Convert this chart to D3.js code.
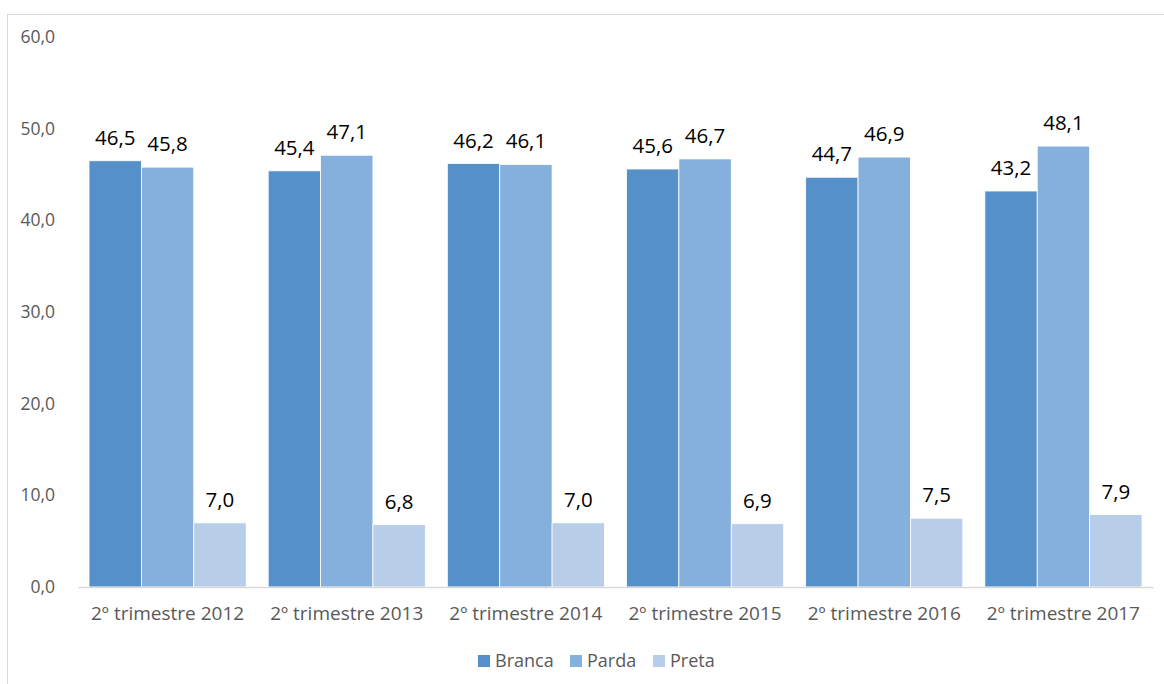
<!DOCTYPE html>
<html>
<head>
<meta charset="utf-8">
<script src="https://cdn.jsdelivr.net/npm/d3@7"></script>
<style>
  body { margin: 0; background: #fff; }
  text { font-family: "Open Sans", Lato, sans-serif; }
</style>
</head>
<body>
<div id="chart"></div>
<script>
const categories = ["2º trimestre 2012", "2º trimestre 2013", "2º trimestre 2014",
                    "2º trimestre 2015", "2º trimestre 2016", "2º trimestre 2017"];
const seriesNames = ["Branca", "Parda", "Preta"];
const branca = [46.5, 45.4, 46.2, 45.6, 44.7, 43.2];
const parda = [45.8, 47.1, 46.1, 46.7, 46.9, 48.1];
const preta = [7.0, 6.8, 7.0, 6.9, 7.5, 7.9];
const yTicks = [0, 10, 20, 30, 40, 50, 60];
const colors = ["#5591c8", "#85afdc", "#b8cde8"];

const width = 1164, height = 684;
const margin = {top: 37, right: 11, bottom: 97, left: 78};

const svg = d3.select("#chart").append("svg")
    .attr("width", width)
    .attr("height", height);

// chart frame
svg.append("rect")
    .attr("x", 7.5).attr("y", 14.5)
    .attr("width", width + 10).attr("height", height + 10)
    .attr("fill", "none")
    .attr("stroke", "#d9d9d9");

const x0 = d3.scaleBand()
    .domain(categories)
    .range([margin.left, width - margin.right])
    .paddingInner(0.123)
    .paddingOuter(0.0615);

const x1 = d3.scaleBand()
    .domain(seriesNames)
    .range([0, x0.bandwidth()]);

const y = d3.scaleLinear()
    .domain([0, 60])
    .range([height - margin.bottom, margin.top]);

const fmt = v => d3.format(".1f")(v).replace(".", ",");

// y axis labels
const yAxis = svg.append("g")
    .attr("transform", `translate(${margin.left - 20},0)`)
    .call(d3.axisLeft(y).tickValues(yTicks).tickFormat(fmt).tickSize(0));
yAxis.select(".domain").remove();
yAxis.selectAll("text")
    .attr("fill", "#595959")
    .attr("font-size", 17.5);

const data = seriesNames.map((s, i) => ({
    name: s,
    values: [branca, parda, preta][i]
}));

const groups = svg.append("g").selectAll("g")
    .data(data)
    .join("g")
    .attr("fill", (d, i) => colors[i]);

groups.selectAll("rect")
    .data(d => d.values.map((v, j) => ({name: d.name, cat: categories[j], v})))
    .join("rect")
    .attr("x", d => x0(d.cat) + x1(d.name))
    .attr("y", d => y(d.v))
    .attr("width", x1.bandwidth())
    .attr("height", d => y(0) - y(d.v))
    .attr("stroke", "#fff")
    .attr("stroke-width", 0.8);

// value labels
groups.selectAll("text")
    .data(d => d.values.map((v, j) => ({name: d.name, cat: categories[j], v})))
    .join("text")
    .attr("x", d => x0(d.cat) + x1(d.name) + x1.bandwidth() / 2)
    .attr("y", d => y(d.v) - 16)
    .attr("text-anchor", "middle")
    .attr("fill", "#000")
    .attr("font-size", 20.5)
    .text(d => fmt(d.v));

// x axis
const xAxis = svg.append("g")
    .attr("transform", `translate(0,${y(0)})`)
    .call(d3.axisBottom(x0).tickSize(0).tickPadding(20));
xAxis.select(".domain").attr("stroke", "#d9d9d9").attr("stroke-width", 1.5);
xAxis.selectAll("text")
    .attr("fill", "#595959")
    .attr("font-size", 19);

// legend
const legendX = [478, 570, 653];
const legend = svg.append("g").selectAll("g")
    .data(seriesNames)
    .join("g")
    .attr("transform", (d, i) => `translate(${legendX[i]},661)`);
legend.append("rect")
    .attr("x", 0).attr("y", -6)
    .attr("width", 12).attr("height", 12)
    .attr("fill", (d, i) => colors[i]);
legend.append("text")
    .attr("x", 17).attr("y", 0)
    .attr("dy", "0.35em")
    .attr("fill", "#595959")
    .attr("font-size", 18)
    .text(d => d);
</script>
</body>
</html>
